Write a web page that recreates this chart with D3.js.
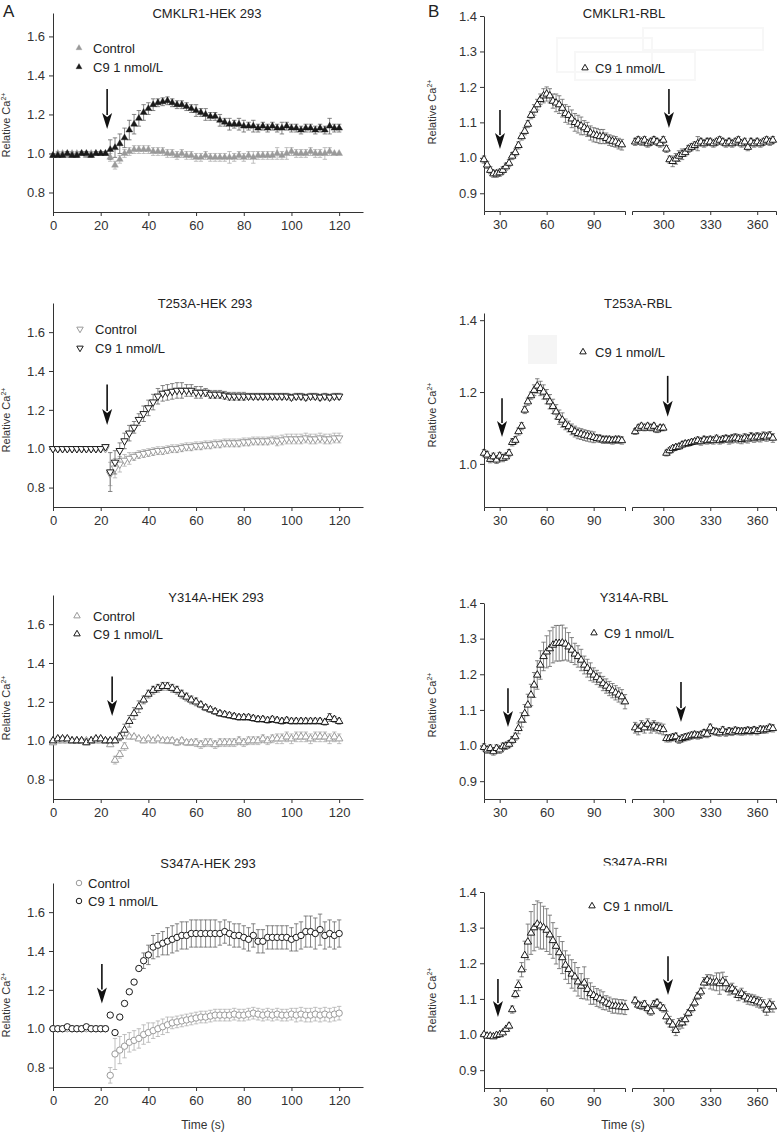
<!DOCTYPE html>
<html>
<head>
<meta charset="utf-8">
<script src="https://cdn.jsdelivr.net/npm/d3@7"></script>
<style>
body { margin: 0; background: #fff; }
svg { display: block; font-family: "Liberation Sans", Arial, sans-serif; }
</style>
</head>
<body>
<div id="fig"></div>
<script>
// samples every 2 s; HEK 293 panels start at t = 0 s
var stepT = 2;

// A: CMKLR1-HEK 293
var cmklrHekCtl = [0.99,1.00,1.00,0.99,1.00,1.00,1.00,0.99,1.00,1.00,1.00,1.00,
  0.98,0.94,0.97,1.00,1.01,1.02,1.02,1.02,1.02,1.01,1.01,1.01,1.00,1.00,0.99,1.00,0.99,0.99,
  0.98,0.98,0.99,0.98,0.98,0.98,0.98,0.98,0.98,0.99,0.98,0.99,0.98,0.99,0.99,0.99,0.99,1.00,
  0.99,1.00,1.01,1.00,1.00,1.00,1.01,1.00,1.00,1.00,1.01,1.00,1.00];
var cmklrHekCtlErr = [0.01,0.01,0.01,0.01,0.01,0.01,0.01,0.01,0.01,0.01,0.01,0.01,
  0.02,0.02,0.02,0.02,0.02,0.02,0.02,0.02,0.02,0.02,0.02,0.02,0.02,0.02,0.02,0.02,0.02,0.02,
  0.02,0.02,0.02,0.02,0.02,0.02,0.02,0.03,0.02,0.02,0.02,0.02,0.03,0.02,0.02,0.02,0.02,0.03,
  0.02,0.03,0.02,0.02,0.02,0.02,0.02,0.02,0.02,0.03,0.02];
var cmklrHekC9 = [0.99,0.99,0.99,1.00,0.99,0.99,1.00,1.00,0.99,1.00,1.00,1.00,
  1.02,1.03,1.05,1.08,1.12,1.15,1.18,1.21,1.23,1.25,1.26,1.265,1.27,1.26,1.25,1.25,1.24,1.23,
  1.22,1.21,1.20,1.19,1.19,1.17,1.16,1.15,1.15,1.15,1.14,1.14,1.14,1.13,1.14,1.13,1.14,1.13,
  1.13,1.14,1.13,1.13,1.12,1.13,1.13,1.12,1.13,1.12,1.14,1.13,1.13];
var cmklrHekC9Err = [0.01,0.01,0.01,0.01,0.01,0.01,0.01,0.01,0.01,0.01,0.01,0.01,
  0.05,0.05,0.05,0.05,0.05,0.05,0.04,0.04,0.03,0.03,0.02,0.02,0.02,0.02,0.02,0.02,0.02,0.02,
  0.03,0.02,0.03,0.02,0.02,0.03,0.02,0.03,0.02,0.03,0.03,0.02,0.03,0.02,0.02,0.02,0.02,0.02,
  0.03,0.02,0.02,0.02,0.02,0.02,0.02,0.02,0.02,0.02,0.04,0.02,0.02];

// A: T253A-HEK 293
var t253HekCtl = [1.00,1.00,1.00,1.00,1.00,1.00,1.00,1.00,1.00,1.00,1.00,1.00,
  0.87,0.90,0.92,0.94,0.95,0.96,0.97,0.975,0.98,0.985,0.99,0.99,0.995,1.00,1.00,1.005,1.01,1.01,
  1.015,1.015,1.02,1.02,1.025,1.025,1.03,1.03,1.03,1.03,1.035,1.035,1.04,1.04,1.04,1.04,1.045,
  1.04,1.045,1.05,1.05,1.05,1.05,1.055,1.05,1.05,1.055,1.05,1.05,1.055,1.055];
var t253HekCtlErr = [0.01,0.01,0.01,0.01,0.01,0.01,0.01,0.01,0.01,0.01,0.01,0.01,
  0.06,0.05,0.04,0.03,0.03,0.02,0.02,0.02,0.02,0.02,0.02,0.02,0.02,0.02,0.02,0.02,0.02,0.02,
  0.02,0.02,0.02,0.02,0.02,0.02,0.02,0.02,0.02,0.02,0.02,0.02,0.02,0.02,0.02,0.02,0.02,
  0.025,0.025,0.025,0.025,0.025,0.025,0.025,0.025,0.025,0.025,0.025,0.025,0.025,0.025];
var t253HekC9 = [1.00,1.00,1.00,1.00,1.00,1.00,1.00,1.00,1.00,1.00,1.00,1.01,
  0.88,0.93,0.99,1.04,1.08,1.11,1.15,1.18,1.21,1.24,1.27,1.285,1.29,1.295,1.30,1.30,1.30,1.30,
  1.29,1.29,1.29,1.28,1.28,1.28,1.275,1.27,1.27,1.27,1.27,1.27,1.27,1.27,1.27,1.27,1.27,
  1.27,1.27,1.27,1.265,1.27,1.27,1.265,1.27,1.27,1.265,1.27,1.265,1.27,1.27];
var t253HekC9Err = [0.01,0.01,0.01,0.01,0.01,0.01,0.01,0.01,0.01,0.01,0.01,0.01,
  0.10,0.06,0.04,0.04,0.04,0.03,0.03,0.04,0.04,0.04,0.04,0.04,0.04,0.04,0.04,0.04,0.03,0.03,
  0.03,0.03,0.02,0.02,0.02,0.02,0.02,0.02,0.02,0.02,0.02,0.015,0.015,0.015,0.015,0.015,0.015,
  0.015,0.015,0.015,0.015,0.015,0.015,0.015,0.015,0.015,0.015,0.015,0.015,0.015,0.015];

// A: Y314A-HEK 293
var y314HekCtl = [0.99,1.00,1.00,1.00,1.00,1.00,1.00,1.00,1.00,1.00,1.00,1.00,0.98,
  0.90,0.93,0.97,1.02,1.02,1.01,1.00,1.01,1.00,1.01,1.00,1.00,1.00,0.99,1.00,0.99,0.99,0.99,
  0.98,0.99,0.99,0.98,0.99,0.99,0.99,0.99,1.00,0.99,1.00,1.00,1.00,1.01,1.00,1.01,1.01,1.01,
  1.02,1.01,1.02,1.02,1.02,1.01,1.02,1.02,1.02,1.01,1.02,1.01];
var y314HekCtlErr = [0.01,0.01,0.01,0.01,0.01,0.01,0.01,0.01,0.01,0.01,0.01,0.01,0.01,
  0.02,0.02,0.02,0.01,0.01,0.01,0.01,0.01,0.01,0.01,0.01,0.015,0.015,0.015,0.015,0.015,0.015,
  0.02,0.02,0.02,0.02,0.02,0.02,0.02,0.02,0.02,0.02,0.02,0.02,0.02,0.02,0.02,0.02,0.02,0.025,
  0.025,0.025,0.025,0.025,0.025,0.025,0.025,0.025,0.025,0.025,0.025,0.025,0.025];
var y314HekC9 = [1.00,1.01,1.01,1.01,1.00,1.00,1.00,0.99,1.00,1.01,1.01,1.00,1.00,1.00,
  1.02,1.055,1.10,1.14,1.175,1.21,1.24,1.26,1.27,1.28,1.28,1.27,1.26,1.24,1.225,1.21,1.20,
  1.185,1.17,1.16,1.15,1.14,1.135,1.13,1.125,1.12,1.12,1.12,1.115,1.11,1.11,1.105,1.11,1.105,
  1.10,1.105,1.10,1.10,1.10,1.10,1.10,1.10,1.10,1.095,1.12,1.11,1.10];
var y314HekC9Err = [0.01,0.01,0.01,0.01,0.01,0.01,0.01,0.01,0.01,0.01,0.01,0.01,0.01,0.01,
  0.02,0.03,0.03,0.03,0.03,0.02,0.02,0.02,0.02,0.02,0.02,0.02,0.02,0.02,0.02,0.02,0.02,
  0.015,0.015,0.015,0.015,0.015,0.015,0.015,0.015,0.015,0.015,0.015,0.015,0.015,0.015,0.015,
  0.015,0.015,0.015,0.015,0.015,0.015,0.015,0.015,0.015,0.015,0.015,0.015,0.02,0.015,0.015];

// A: S347A-HEK 293
var s347HekCtl = [1.00,1.00,1.00,1.00,1.00,1.00,1.00,1.00,1.00,1.00,1.00,1.00,
  0.76,0.87,0.89,0.91,0.93,0.94,0.95,0.97,0.98,0.99,1.00,1.01,1.02,1.03,1.035,1.04,1.045,1.05,
  1.055,1.06,1.06,1.065,1.07,1.07,1.07,1.07,1.075,1.07,1.07,1.075,1.08,1.075,1.07,1.075,1.07,
  1.075,1.07,1.07,1.075,1.07,1.075,1.07,1.07,1.075,1.07,1.075,1.07,1.075,1.08];
var s347HekCtlErr = [0.01,0.01,0.01,0.01,0.01,0.01,0.01,0.01,0.01,0.01,0.01,0.01,
  0.04,0.08,0.07,0.06,0.05,0.05,0.05,0.05,0.05,0.04,0.04,0.04,0.04,0.03,0.03,0.03,0.03,0.03,
  0.03,0.03,0.03,0.03,0.03,0.03,0.03,0.03,0.03,0.03,0.03,0.03,0.03,0.03,0.03,0.03,0.03,
  0.03,0.03,0.03,0.03,0.035,0.035,0.035,0.035,0.035,0.035,0.035,0.035,0.035,0.035];
var s347HekC9 = [1.00,1.00,1.00,1.01,1.00,1.00,1.00,1.01,1.00,1.00,1.00,1.00,
  1.07,0.98,1.06,1.13,1.19,1.24,1.31,1.35,1.38,1.42,1.43,1.44,1.45,1.46,1.47,1.48,1.48,1.49,
  1.49,1.49,1.49,1.49,1.49,1.49,1.50,1.49,1.48,1.48,1.47,1.46,1.48,1.45,1.45,1.47,1.47,
  1.47,1.47,1.47,1.46,1.47,1.48,1.50,1.50,1.49,1.51,1.48,1.49,1.48,1.49];
var s347HekC9Err = [0.01,0.01,0.01,0.01,0.01,0.01,0.01,0.01,0.01,0.01,0.01,0.01,
  0,0,0,0,0,0,0,0.04,0.05,0.06,0.06,0.06,0.07,0.07,0.07,0.07,0.07,0.07,
  0.07,0.07,0.07,0.07,0.07,0.06,0.06,0.06,0.06,0.06,0.06,0.06,0.06,0.06,0.06,0.06,0.06,
  0.06,0.06,0.06,0.06,0.07,0.07,0.08,0.08,0.08,0.08,0.07,0.07,0.07,0.07];

// B: RBL panels, two time windows: 20-110 s and 282-370 s
var startB1 = 20, startB2 = 282;

var cmklrRbl1 = [0.995,0.98,0.965,0.955,0.955,0.958,0.965,0.975,0.985,1.005,1.015,1.035,1.06,1.075,1.095,
  1.12,1.135,1.15,1.165,1.175,1.18,1.175,1.16,1.155,1.15,1.14,1.125,1.12,1.11,1.10,
  1.095,1.09,1.085,1.08,1.07,1.065,1.063,1.06,1.06,1.055,1.05,1.047,1.045,1.04,1.037];
var cmklrRbl1Err = [0.01,0.01,0.01,0.01,0.01,0.01,0.01,0.01,0.01,0.01,0.01,0.01,0.01,0.01,0.01,
  0.01,0.015,0.015,0.015,0.02,0.02,0.02,0.02,0.025,0.025,0.025,0.025,0.025,0.025,0.025,
  0.025,0.025,0.02,0.02,0.02,0.02,0.02,0.02,0.02,0.015,0.015,0.015,0.015,0.015,0.015];
var cmklrRbl2 = [1.045,1.05,1.045,1.05,1.04,1.045,1.05,1.045,1.04,1.05,1.025,0.995,0.99,0.997,1.005,
  1.01,1.015,1.025,1.03,1.035,1.04,1.045,1.04,1.045,1.045,1.04,1.045,1.05,1.045,1.04,
  1.045,1.04,1.045,1.05,1.04,1.045,1.03,1.045,1.04,1.045,1.04,1.045,1.05,1.045,1.05];
var cmklrRbl2Err = [0.01,0.01,0.01,0.01,0.01,0.01,0.01,0.01,0.01,0.01,0.01,0.01,0.015,0.015,0.015,
  0.015,0.01,0.01,0.01,0.01,0.02,0.01,0.01,0.01,0.01,0.01,0.01,0.01,0.01,0.01,
  0.01,0.01,0.01,0.01,0.01,0.01,0.01,0.01,0.01,0.01,0.01,0.01,0.01,0.01,0.01];

var t253Rbl1 = [1.03,1.025,1.013,1.02,1.011,1.022,1.016,1.02,1.03,1.06,1.066,1.09,1.105,1.15,1.173,
  1.19,1.205,1.217,1.21,1.20,1.187,1.173,1.16,1.145,1.13,1.122,1.11,1.104,1.096,1.09,
  1.085,1.083,1.08,1.078,1.076,1.074,1.071,1.07,1.067,1.067,1.067,1.065,1.067,1.067,1.065];
var t253Rbl1Err = [0.01,0.01,0.01,0.01,0.01,0.01,0.01,0.01,0.01,0.01,0.01,0.01,0.01,0.01,0.01,
  0.01,0.015,0.02,0.02,0.02,0.02,0.02,0.02,0.02,0.02,0.02,0.015,0.015,0.015,0.015,
  0.015,0.015,0.015,0.015,0.015,0.015,0.01,0.01,0.01,0.01,0.01,0.01,0.01,0.01,0.01];
var t253Rbl2 = [1.09,1.10,1.105,1.10,1.105,1.10,1.105,1.095,1.10,1.10,1.03,1.037,1.043,1.046,1.048,
  1.053,1.056,1.057,1.06,1.062,1.065,1.062,1.067,1.065,1.067,1.065,1.07,1.065,1.068,1.07,
  1.067,1.07,1.072,1.07,1.068,1.072,1.07,1.075,1.072,1.075,1.073,1.077,1.075,1.078,1.072];
var t253Rbl2Err = [0.008,0.008,0.008,0.008,0.008,0.008,0.008,0.008,0.008,0.008,0.008,0.008,0.008,0.008,0.008,
  0.008,0.008,0.008,0.008,0.008,0.01,0.01,0.01,0.01,0.01,0.01,0.01,0.01,0.01,0.01,
  0.012,0.012,0.012,0.012,0.012,0.012,0.012,0.012,0.012,0.012,0.012,0.012,0.012,0.012,0.012];

var y314Rbl1 = [0.995,0.988,0.992,0.983,0.992,0.988,0.997,0.999,1.004,1.015,1.025,1.048,1.072,1.09,1.114,
  1.142,1.17,1.198,1.226,1.25,1.263,1.272,1.282,1.287,1.287,1.288,1.285,1.277,1.268,1.257,
  1.25,1.24,1.226,1.217,1.207,1.198,1.191,1.184,1.174,1.167,1.16,1.154,1.148,1.142,1.137,1.123];
var y314Rbl1Err = [0.01,0.01,0.01,0.01,0.01,0.01,0.01,0.01,0.01,0.01,0.01,0.015,0.02,0.025,0.03,
  0.03,0.035,0.04,0.04,0.04,0.045,0.05,0.05,0.05,0.05,0.05,0.045,0.04,0.035,0.03,
  0.03,0.03,0.025,0.025,0.025,0.02,0.02,0.02,0.02,0.02,0.02,0.02,0.02,0.02,0.02,0.02];
var y314Rbl2 = [1.05,1.045,1.055,1.05,1.06,1.05,1.055,1.05,1.048,1.045,1.02,1.02,1.023,1.025,1.016,
  1.02,1.023,1.025,1.028,1.03,1.028,1.03,1.035,1.032,1.05,1.04,1.038,1.036,1.043,1.036,
  1.04,1.038,1.042,1.04,1.039,1.04,1.042,1.04,1.043,1.04,1.045,1.044,1.045,1.05,1.048];
var y314Rbl2Err = [0.015,0.015,0.015,0.015,0.015,0.015,0.015,0.015,0.015,0.015,0.01,0.01,0.01,0.01,0.01,
  0.01,0.01,0.01,0.01,0.01,0.01,0.01,0.01,0.01,0.01,0.01,0.01,0.01,0.01,0.01,
  0.01,0.01,0.01,0.01,0.01,0.01,0.01,0.01,0.01,0.01,0.01,0.01,0.01,0.01,0.01];

var s347Rbl1 = [1.0,0.996,0.996,0.994,0.998,1.0,1.005,1.015,1.024,1.07,1.113,1.138,1.182,1.222,1.26,
  1.285,1.30,1.31,1.305,1.30,1.293,1.28,1.264,1.248,1.23,1.216,1.195,1.183,1.17,1.162,
  1.148,1.136,1.145,1.127,1.115,1.11,1.104,1.10,1.095,1.089,1.085,1.08,1.08,1.078,1.078,1.076];
var s347Rbl1Err = [0.005,0.005,0.005,0.005,0.005,0.005,0.005,0.005,0.008,0.01,0.01,0.015,0.02,0.04,0.05,
  0.06,0.065,0.065,0.065,0.06,0.06,0.055,0.05,0.05,0.045,0.045,0.04,0.04,0.04,0.04,
  0.04,0.035,0.045,0.03,0.03,0.025,0.025,0.025,0.025,0.02,0.02,0.02,0.02,0.02,0.02,0.02];
var s347Rbl2 = [1.095,1.083,1.08,1.085,1.073,1.064,1.085,1.089,1.08,1.073,1.05,1.036,1.027,1.012,1.03,
  1.033,1.042,1.06,1.073,1.089,1.108,1.12,1.145,1.153,1.148,1.145,1.148,1.143,1.15,1.143,
  1.126,1.129,1.12,1.11,1.115,1.106,1.10,1.098,1.096,1.092,1.089,1.083,1.069,1.085,1.078];
var s347Rbl2Err = [0.01,0.01,0.01,0.01,0.01,0.01,0.01,0.01,0.01,0.01,0.015,0.015,0.015,0.015,0.015,
  0.015,0.015,0.01,0.01,0.01,0.01,0.01,0.015,0.015,0.02,0.02,0.025,0.03,0.025,0.02,
  0.015,0.015,0.015,0.015,0.015,0.015,0.015,0.015,0.015,0.015,0.015,0.015,0.015,0.015,0.015];

var legendLabels = ['Control', 'C9 1 nmol/L'];
var xTicksA = [0, 20, 40, 60, 80, 100, 120];
var xTicksB = [[30, 60, 90], [300, 330, 360]];
var yTicksA = [0.8, 1.0, 1.2, 1.4, 1.6];
var yTicksB = [0.9, 1.0, 1.1, 1.2, 1.3, 1.4];
var yTicksB2 = [1.0, 1.2, 1.4];

var W = 784, H = 1136;
var svg = d3.select('#fig').append('svg')
    .attr('width', W)
    .attr('height', H)
    .attr('viewBox', '0 0 ' + W + ' ' + H);

var tri = d3.symbolTriangle, circ = d3.symbolCircle;
var grey = '#9a9a9a', dark = '#1a1a1a';

var markers = {
    triFilled: { shape: tri, size: 20, down: false, open: false },
    triDown: { shape: tri, size: 24, down: true, open: true },
    triOpen: { shape: tri, size: 24, down: false, open: true },
    circOpen: { shape: circ, size: 32, down: false, open: true }
};

var leftPanels = [
    { title: 'CMKLR1-HEK 293', tx: 207, ty: 13, top: 13, bottom: 212, yDomain: [0.7, 1.72],
      marker: 'triFilled', legX: [79, 93], legY: [48, 67], yLabelY: 125,
      arrow: { t: 22.7, from: 1.33, to: 1.125 },
      ctl: cmklrHekCtl, ctlErr: cmklrHekCtlErr, c9: cmklrHekC9, c9Err: cmklrHekC9Err },
    { title: 'T253A-HEK 293', tx: 205, ty: 303, top: 303, bottom: 507, yDomain: [0.7, 1.75],
      marker: 'triDown', legX: [80, 95], legY: [329, 348], yLabelY: 420,
      arrow: { t: 22.7, from: 1.33, to: 1.122 },
      ctl: t253HekCtl, ctlErr: t253HekCtlErr, c9: t253HekC9, c9Err: t253HekC9Err },
    { title: 'Y314A-HEK 293', tx: 216, ty: 597, top: 595, bottom: 799, yDomain: [0.7, 1.75],
      marker: 'triOpen', legX: [77, 93], legY: [616, 634], yLabelY: 708,
      arrow: { t: 24.8, from: 1.33, to: 1.127 },
      ctl: y314HekCtl, ctlErr: y314HekCtlErr, c9: y314HekC9, c9Err: y314HekC9Err },
    { title: 'S347A-HEK 293', tx: 208, ty: 863, top: 883, bottom: 1087, yDomain: [0.7, 1.75],
      marker: 'circOpen', legX: [79, 88], legY: [883, 901], yLabelY: 1005, timeLabel: true,
      arrow: { t: 20.5, from: 1.333, to: 1.13 },
      ctl: s347HekCtl, ctlErr: s347HekCtlErr, c9: s347HekC9, c9Err: s347HekC9Err }
];

var rightPanels = [
    { title: 'CMKLR1-RBL', tx: 624, ty: 13, top: 16, bottom: 211, yDomain: [0.85, 1.4], ticks: yTicksB,
      legX: [585, 595], legY: 68, yLabelY: 112,
      arrows: [{ t: 30.2, from: 1.135, to: 1.025, seg: 0 }, { t: 303.6, from: 1.194, to: 1.084, seg: 1 }],
      s1: cmklrRbl1, e1: cmklrRbl1Err, s2: cmklrRbl2, e2: cmklrRbl2Err,
      ghosts: [[557, 38, 95, 34], [643, 28, 120, 22], [575, 52, 120, 28]] },
    { title: 'T253A-RBL', tx: 638, ty: 303, top: 313, bottom: 507, yDomain: [0.88, 1.42], ticks: yTicksB2,
      legX: [583, 595], legY: 352, yLabelY: 415,
      arrows: [{ t: 31.5, from: 1.183, to: 1.075, seg: 0 }, { t: 302.8, from: 1.245, to: 1.131, seg: 1 }],
      s1: t253Rbl1, e1: t253Rbl1Err, s2: t253Rbl2, e2: t253Rbl2Err,
      patch: [528, 335, 29, 29] },
    { title: 'Y314A-RBL', tx: 634, ty: 597, top: 603, bottom: 799, yDomain: [0.85, 1.4], ticks: yTicksB,
      legX: [594, 604], legY: 633, yLabelY: 705,
      arrows: [{ t: 35.3, from: 1.161, to: 1.052, seg: 0 }, { t: 311.3, from: 1.178, to: 1.066, seg: 1 }],
      s1: y314Rbl1, e1: y314Rbl1Err, s2: y314Rbl2, e2: y314Rbl2Err },
    { title: 'S347A-RBL', tx: 637, ty: 862, top: 892, bottom: 1088, yDomain: [0.85, 1.4], ticks: yTicksB,
      legX: [592, 603], legY: 906, yLabelY: 1000, timeLabel: true, clipTitle: 865.5,
      arrows: [{ t: 28.9, from: 1.156, to: 1.049, seg: 0 }, { t: 303, from: 1.22, to: 1.111, seg: 1 }],
      s1: s347Rbl1, e1: s347Rbl1Err, s2: s347Rbl2, e2: s347Rbl2Err }
];

function toPoints(start, vals, errs) {
    return vals.map(function(v, i) {
        return { t: start + i * stepT, v: v, e: errs[i] || 0 };
    });
}

function drawErrors(g, pts, x, y, color) {
    g.append('g')
        .attr('stroke', color)
        .attr('stroke-width', 0.8)
        .attr('fill', 'none')
    .selectAll('path')
        .data(pts.filter(function(d) { return d.e > 0; }))
    .enter().append('path')
        .attr('d', function(d) {
            var cx = x(d.t), lo = y(d.v - d.e), hi = y(d.v + d.e);
            return 'M' + cx + ',' + lo + 'V' + hi +
                'M' + (cx - 2.2) + ',' + hi + 'H' + (cx + 2.2) +
                'M' + (cx - 2.2) + ',' + lo + 'H' + (cx + 2.2);
        });
}

function drawMarkers(g, pts, x, y, m, color) {
    g.append('g').selectAll('path')
        .data(pts)
    .enter().append('path')
        .attr('transform', function(d) {
            return 'translate(' + x(d.t) + ',' + y(d.v) + ')' + (m.down ? ' rotate(180)' : '');
        })
        .attr('d', d3.symbol().type(m.shape).size(m.size))
        .attr('fill', m.open ? '#fff' : color)
        .attr('stroke', color)
        .attr('stroke-width', m.open ? 1 : 0.4);
}

function drawArrow(g, cx, y0, y1) {
    var head = 16;
    g.append('line')
        .attr('x1', cx).attr('x2', cx)
        .attr('y1', y0).attr('y2', y1 - head + 2)
        .attr('stroke', '#111')
        .attr('stroke-width', 1.6);
    g.append('path')
        .attr('d', 'M' + (cx - 5) + ',' + (y1 - head) + 'L' + cx + ',' + (y1 - head + 4) +
            'L' + (cx + 5) + ',' + (y1 - head) + 'L' + cx + ',' + y1 + 'Z')
        .attr('fill', '#111');
}

function yLabel(g, x, y) {
    var t = g.append('text')
        .attr('transform', 'translate(' + x + ',' + y + ') rotate(-90)')
        .attr('text-anchor', 'middle')
        .attr('fill', '#333')
        .style('font-size', '11px');
    t.append('tspan').text('Relative Ca');
    t.append('tspan').attr('dy', -4).style('font-size', '7px').text('2+');
}

function styleAxis(sel) {
    sel.selectAll('path, line').attr('stroke', '#333');
    sel.selectAll('text').attr('fill', '#333').style('font-size', '13px').style('font-family', '"Liberation Sans", Arial, sans-serif');
}

function legend(g, mx, tx, ys, m, colors, labels) {
    ys.forEach(function(ly, i) {
        g.append('path')
            .attr('transform', 'translate(' + mx + ',' + ly + ')' + (m.down ? ' rotate(180)' : ''))
            .attr('d', d3.symbol().type(m.shape).size(m.size * 0.75))
            .attr('fill', m.open ? '#fff' : colors[i])
            .attr('stroke', colors[i])
            .attr('stroke-width', m.open ? 1 : 0.4);
        g.append('text')
            .attr('x', tx).attr('y', ly)
            .attr('dy', '0.35em')
            .attr('fill', '#222')
            .style('font-size', '13px')
            .text(labels[i]);
    });
}

function title(g, p) {
    var t = g.append('text')
        .attr('x', p.tx).attr('y', p.ty)
        .attr('dy', '0.35em')
        .attr('text-anchor', 'middle')
        .attr('fill', '#222')
        .style('font-size', '13px')
        .text(p.title);
    if (p.clipTitle) {
        svg.append('clipPath').attr('id', 'titleclip')
            .append('rect').attr('x', p.tx - 80).attr('y', p.ty - 20).attr('width', 160).attr('height', p.clipTitle - p.ty + 20);
        t.attr('clip-path', 'url(#titleclip)');
    }
}

// left column (A)
var xA = d3.scaleLinear().domain([0, 130]).range([53, 363]);

leftPanels.forEach(function(p) {
    var g = svg.append('g');
    var y = d3.scaleLinear().domain(p.yDomain).range([p.bottom, p.top]);
    var m = markers[p.marker];

    g.append('g')
        .attr('transform', 'translate(0,' + p.bottom + ')')
        .call(d3.axisBottom(xA).tickValues(xTicksA).tickSize(4).tickSizeOuter(0).tickPadding(5))
        .call(styleAxis);
    g.append('g')
        .attr('transform', 'translate(53,0)')
        .call(d3.axisLeft(y).tickValues(yTicksA).tickFormat(d3.format('.1f')).tickSize(4).tickSizeOuter(0).tickPadding(4))
        .call(styleAxis);

    title(g, p);
    yLabel(g, 10, p.yLabelY);

    var ctl = toPoints(0, p.ctl, p.ctlErr), c9 = toPoints(0, p.c9, p.c9Err);
    drawErrors(g, ctl, xA, y, '#b0b0b0');
    drawErrors(g, c9, xA, y, '#666');
    drawMarkers(g, ctl, xA, y, m, grey);
    drawMarkers(g, c9, xA, y, m, dark);

    legend(g, p.legX[0], p.legX[1], p.legY, m, [grey, dark], legendLabels);
    drawArrow(g, xA(p.arrow.t), y(p.arrow.from), y(p.arrow.to));

    if (p.timeLabel) {
        g.append('text').attr('x', 203).attr('y', 1125).attr('dy', '0.35em')
            .attr('text-anchor', 'middle').attr('fill', '#333').style('font-size', '12px').text('Time (s)');
    }
});

// right column (B)
var xB = [
    d3.scaleLinear().domain([20, 110]).range([484, 625]),
    d3.scaleLinear().domain([280, 372]).range([632, 776])
];

rightPanels.forEach(function(p) {
    var g = svg.append('g');
    var y = d3.scaleLinear().domain(p.yDomain).range([p.bottom, p.top]);
    var m = markers.triOpen;

    // faint leftovers of the original image editing
    (p.ghosts || []).forEach(function(r) {
        g.append('rect').attr('x', r[0]).attr('y', r[1]).attr('width', r[2]).attr('height', r[3])
            .attr('fill', 'none').attr('stroke', '#f7f7f7').attr('stroke-width', 2);
    });
    if (p.patch) {
        g.append('rect').attr('x', p.patch[0]).attr('y', p.patch[1]).attr('width', p.patch[2]).attr('height', p.patch[3])
            .attr('fill', '#f5f5f5');
    }

    xB.forEach(function(xs, k) {
        g.append('g')
            .attr('transform', 'translate(0,' + p.bottom + ')')
            .call(d3.axisBottom(xs).tickValues(xTicksB[k]).tickSize(4).tickSizeOuter(4).tickPadding(5))
            .call(styleAxis);
    });
    g.append('g')
        .attr('transform', 'translate(484,0)')
        .call(d3.axisLeft(y).tickValues(p.ticks).tickFormat(d3.format('.1f')).tickSize(4).tickSizeOuter(0).tickPadding(3))
        .call(styleAxis);

    title(g, p);
    yLabel(g, 436, p.yLabelY);

    var seg1 = toPoints(startB1, p.s1, p.e1), seg2 = toPoints(startB2, p.s2, p.e2);
    drawErrors(g, seg1, xB[0], y, '#666');
    drawErrors(g, seg2, xB[1], y, '#666');
    drawMarkers(g, seg1, xB[0], y, m, dark);
    drawMarkers(g, seg2, xB[1], y, m, dark);

    legend(g, p.legX[0], p.legX[1], [p.legY], m, [dark], [legendLabels[1]]);
    p.arrows.forEach(function(a) {
        drawArrow(g, xB[a.seg](a.t), y(a.from), y(a.to));
    });

    if (p.timeLabel) {
        g.append('text').attr('x', 623).attr('y', 1125).attr('dy', '0.35em')
            .attr('text-anchor', 'middle').attr('fill', '#333').style('font-size', '12px').text('Time (s)');
    }
});

// panel letters
svg.append('text').attr('x', 3).attr('y', 17).attr('fill', '#222').style('font-size', '17px').text('A');
svg.append('text').attr('x', 428).attr('y', 17).attr('fill', '#222').style('font-size', '17px').text('B');
</script>
</body>
</html>
